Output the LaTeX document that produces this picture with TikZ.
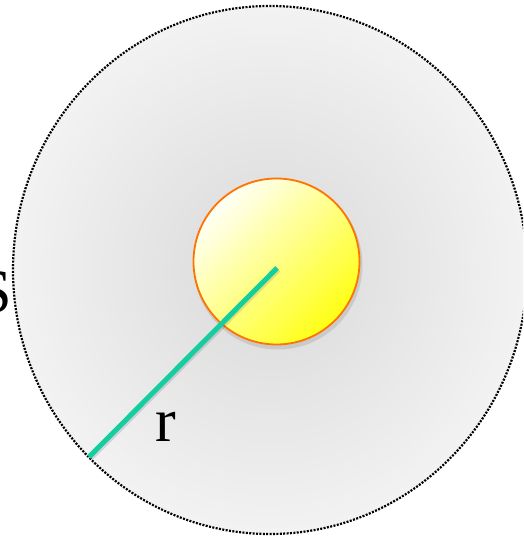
\documentclass[tikz,border=0pt]{standalone}
\usepackage{fontspec}
\setmainfont{Liberation Serif}
\begin{document}
\begin{tikzpicture}[x=1pt,y=1pt,
  field/.style={inner color=black!15, outer color=black!5, draw=black, line width=2.2pt, dash pattern=on 2pt off 1.4pt},
  star/.style={left color=yellow!3!white, right color=yellow!92!white, shading angle=45, draw=orange!90!red, line width=1.8pt},
  radius line/.style={draw={rgb,255:red,20;green,206;blue,160}, line width=5pt},
  lbl/.style={inner sep=0pt, font=\fontsize{62}{62}\selectfont}]
\useasboundingbox (0,0) rectangle (523,537);
\begin{scope}
\clip (0,0) rectangle (523,537);
\path[field] (270,267) ellipse [x radius=257, y radius=264];
\fill[black, opacity=0.1] (278,272) circle [radius=84.5];
\path[star] (276.5,275.5) circle [radius=83];
\coordinate (c) at (277,269);
\coordinate (e) at (89,80);
\draw[black, opacity=0.12, line width=6pt] ([shift={(1,-1.5)}]c) -- ([shift={(1,-1.5)}]e);
\draw[radius line] (c) -- (e);
\node[lbl, anchor=east] (S) at (12,245) {S};
\end{scope}
\node[lbl] (r) at (166,110) {r};
\end{tikzpicture}
\end{document}
